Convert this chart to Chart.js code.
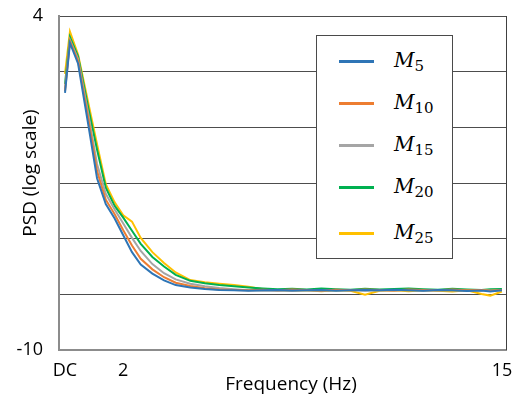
<!DOCTYPE html>
<html>
<head>
<meta charset="utf-8">
<script src="https://cdn.jsdelivr.net/npm/chart.js@4.4.1/dist/chart.umd.min.js"></script>
<style>
  html, body { margin: 0; padding: 0; background: #fff; }
  #wrap { position: relative; width: 522px; height: 405px; }
  #legend {
    position: absolute; left: 316px; top: 35px; width: 135px; height: 222px;
    background: #fff; border: 1px solid #4a4a4a;
  }
  .item { position: absolute; left: 0; width: 135px; height: 30px; }
  .swatch { position: absolute; left: 22px; top: 14px; width: 35px; height: 3px; }
  .lbl {
    position: absolute; left: 77px; top: -1px; line-height: 30px;
    font-family: "DejaVu Serif", serif; font-style: italic; font-size: 20px; color: #000;
  }
  .lbl sub { font-style: normal; font-size: 15px; vertical-align: -4px; }
</style>
</head>
<body>
<div id="wrap">
  <canvas id="c" width="522" height="405"></canvas>
  <div id="legend"></div>
</div>
<script>
// frequency axis (Hz), DC = 0
var freq = [0, 0.17, 0.45, 0.8, 1.1, 1.4, 1.7, 2.0, 2.3, 2.6, 3.0, 3.4, 3.8, 4.3, 4.8, 5.3, 5.8, 6.3, 6.8,
  7.3, 7.8, 8.3, 8.8, 9.3, 9.8, 10.3, 10.8, 11.3, 11.8, 12.3, 12.8, 13.3, 13.8, 14.3, 14.6, 15.0];

var seriesNames = ["5", "10", "15", "20", "25"];
var seriesColors = ["#2E75B6", "#ED7D31", "#A5A5A5", "#00B050", "#FFC000"];

var m5 = [0.78, 2.87, 2.0, -0.56, -2.8, -3.88, -4.48, -5.19, -5.9, -6.42, -6.8, -7.08, -7.28, -7.38, -7.44, -7.48, -7.5, -7.52, -7.5,
  -7.49, -7.51, -7.5, -7.48, -7.52, -7.5, -7.49, -7.5, -7.47, -7.5, -7.52, -7.49, -7.5, -7.53, -7.51, -7.55, -7.5];
var m10 = [0.85, 2.95, 2.1, -0.3, -2.5, -3.7, -4.3, -4.98, -5.62, -6.18, -6.62, -6.95, -7.18, -7.32, -7.41, -7.46, -7.48, -7.5, -7.47,
  -7.5, -7.46, -7.49, -7.51, -7.47, -7.5, -7.46, -7.49, -7.51, -7.46, -7.48, -7.5, -7.46, -7.5, -7.48, -7.52, -7.49];
var m15 = [0.95, 3.0, 2.2, -0.1, -2.2, -3.45, -4.1, -4.7, -5.3, -5.85, -6.4, -6.78, -7.04, -7.22, -7.33, -7.4, -7.45, -7.5, -7.52,
  -7.51, -7.53, -7.5, -7.52, -7.5, -7.49, -7.52, -7.5, -7.51, -7.49, -7.52, -7.5, -7.5, -7.52, -7.5, -7.51, -7.5];
var m20 = [1.15, 3.12, 2.3, 0.15, -1.6, -3.2, -3.95, -4.45, -5.0, -5.55, -6.1, -6.5, -6.85, -7.1, -7.2, -7.28, -7.33, -7.38, -7.42,
  -7.45, -7.43, -7.46, -7.42, -7.45, -7.47, -7.43, -7.46, -7.44, -7.42, -7.45, -7.47, -7.43, -7.46, -7.48, -7.45, -7.44];
var m25 = [1.57, 3.34, 2.37, 0.35, -1.37, -3.05, -3.8, -4.35, -4.62, -5.3, -5.9, -6.35, -6.75, -7.07, -7.16, -7.22, -7.27, -7.35, -7.45,
  -7.5, -7.52, -7.5, -7.54, -7.5, -7.52, -7.68, -7.52, -7.5, -7.54, -7.5, -7.52, -7.55, -7.5, -7.65, -7.72, -7.55];

var yTickValues = [4, 1.6667, -0.6667, -3, -5.3333, -7.6667, -10];
var yTickLabels = ["4", "", "", "", "", "", "-10"];
var xTickValues = [0, 2, 15];
var xTickLabels = ["DC", "2", "15"];
var xTitle = "Frequency (Hz)";
var yTitle = "PSD (log scale)";

var allSeries = [m5, m10, m15, m20, m25];

var datasets = allSeries.map(function (vals, i) {
  return {
    label: "M" + seriesNames[i],
    data: freq.map(function (f, j) { return { x: f, y: vals[j] }; }),
    borderColor: seriesColors[i],
    backgroundColor: seriesColors[i],
    borderWidth: 2,
    pointRadius: 0,
    tension: 0,
    fill: false
  };
});

var font = "'Open Sans', sans-serif";

// right frame line + axis titles (placed like the original, a bit off-centre)
var frameAndTitles = {
  id: "frameAndTitles",
  afterDraw: function (chart) {
    var a = chart.chartArea, ctx = chart.ctx;
    ctx.save();
    ctx.strokeStyle = "#404040";
    ctx.lineWidth = 1;
    ctx.beginPath();
    ctx.moveTo(a.right + 0.5, a.top);
    ctx.lineTo(a.right + 0.5, a.bottom);
    ctx.stroke();

    ctx.fillStyle = "#000";
    ctx.font = "19px " + font;
    ctx.textAlign = "center";
    ctx.textBaseline = "middle";
    ctx.fillText(xTitle, 291, 385);
    ctx.translate(31, 173);
    ctx.rotate(-Math.PI / 2);
    ctx.fillText(yTitle, 0, 0);
    ctx.restore();
  }
};

function noPad(s) {
  s.paddingTop = 0; s.paddingBottom = 0; s.paddingLeft = 0; s.paddingRight = 0;
}

new Chart(document.getElementById("c"), {
  type: "line",
  data: { datasets: datasets },
  plugins: [frameAndTitles],
  options: {
    responsive: false,
    animation: false,
    devicePixelRatio: 1,
    layout: { padding: { top: 16, right: 16, left: 0, bottom: 0 } },
    plugins: { legend: { display: false }, tooltip: { enabled: false } },
    scales: {
      x: {
        type: "linear",
        min: -0.206,
        max: 15.14,
        afterFit: function (s) { s.height = 55; noPad(s); },
        afterBuildTicks: function (s) { s.ticks = xTickValues.map(function (v) { return { value: v }; }); },
        ticks: {
          autoSkip: false, maxRotation: 0, padding: 10, color: "#000",
          font: { family: font, size: 18 },
          callback: function (v) { var k = xTickValues.indexOf(v); return k >= 0 ? xTickLabels[k] : ""; }
        },
        grid: { display: false, drawTicks: false },
        border: { display: true, color: "#8c8c8c", width: 2 }
      },
      y: {
        min: -10,
        max: 4,
        afterFit: function (s) { s.width = 59; noPad(s); },
        afterBuildTicks: function (s) { s.ticks = yTickValues.map(function (v) { return { value: v }; }); },
        ticks: {
          autoSkip: false, padding: 16, color: "#000",
          font: { family: font, size: 18 },
          callback: function (v, i) { return yTickLabels[i]; }
        },
        grid: {
          drawTicks: false,
          lineWidth: 1,
          color: function (ctx) { return ctx.index === yTickValues.length - 1 ? "rgba(0,0,0,0)" : "#4d4d4d"; }
        },
        border: { display: true, color: "#8c8c8c", width: 2 }
      }
    }
  }
});

// boxed legend
var legend = document.getElementById("legend");
var rowTops = [10, 52, 94, 136, 182];
seriesNames.forEach(function (n, i) {
  var item = document.createElement("div");
  item.className = "item";
  item.style.top = rowTops[i] + "px";
  item.innerHTML = '<div class="swatch" style="background:' + seriesColors[i] + '"></div>' +
    '<div class="lbl">M<sub>' + n + '</sub></div>';
  legend.appendChild(item);
});
</script>
</body>
</html>
